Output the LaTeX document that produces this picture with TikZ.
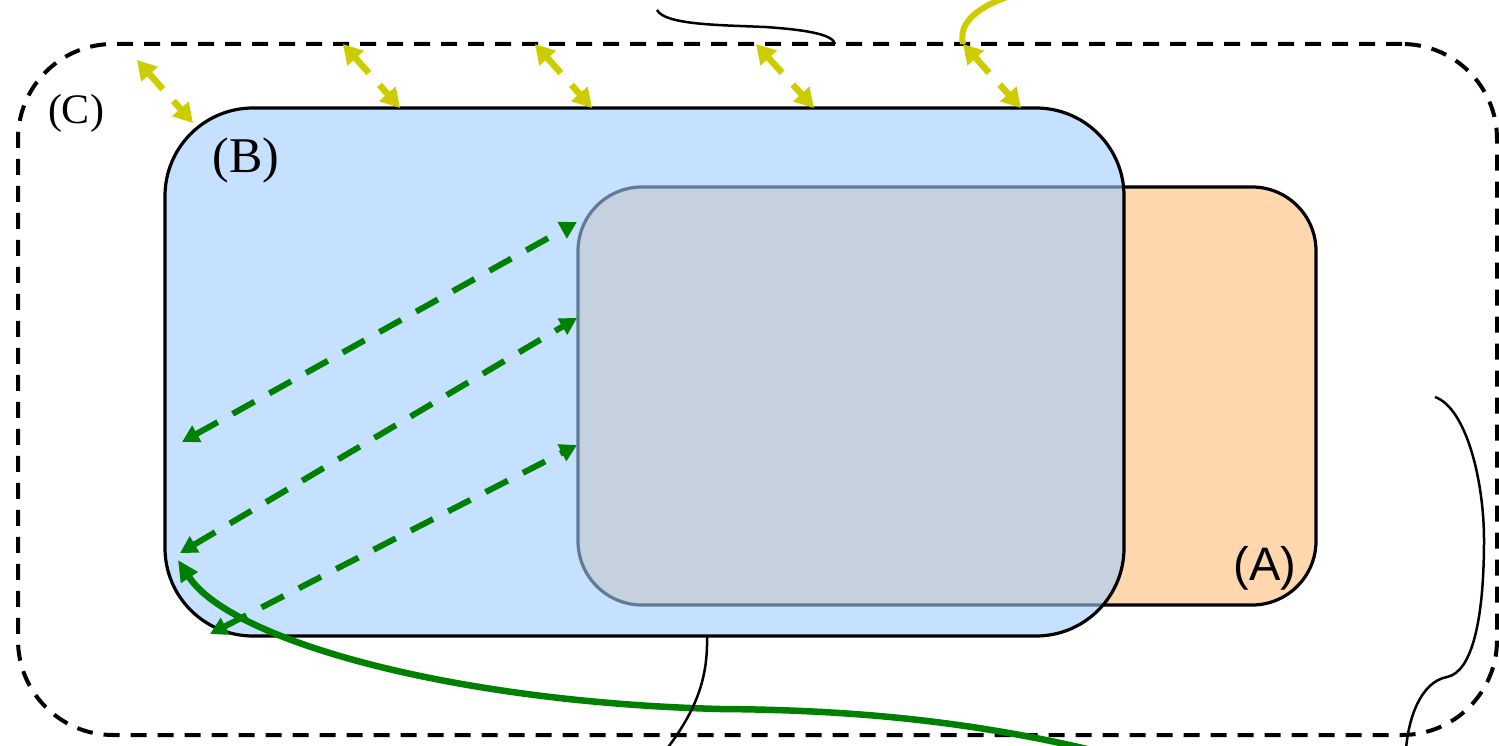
\documentclass[tikz,border=0pt]{standalone}
\usepackage{fontspec}
\setmainfont{Liberation Serif}
\newfontfamily\labelsans{Liberation Sans}
\usetikzlibrary{arrows.meta}
\definecolor{boxblue}{RGB}{160,205,255}
\definecolor{boxorange}{RGB}{255,215,175}
\definecolor{arrowgreen}{RGB}{0,128,0}
\definecolor{arrowyellow}{RGB}{204,204,0}
\begin{document}
\begin{tikzpicture}[x=1pt,y=-1pt,
  region/.style={draw=black,line width=3.2pt,rectangle,inner sep=0pt,outer sep=0pt},
  outerregion/.style={draw=black,line width=4pt,dash pattern=on 16pt off 11pt,rectangle,inner sep=0pt,outer sep=0pt},
  yarrow/.style={draw=arrowyellow,line width=6.5pt,{Triangle[length=19pt,width=21pt]}-{Triangle[length=19pt,width=21pt]},dash pattern=on 21pt off 16pt on 80pt},
  garrow/.style={draw=arrowgreen,line width=6pt,{Triangle[length=17pt,width=18pt]}-{Triangle[length=17pt,width=18pt]},dash pattern=on 25pt off 17pt},
  greencurve/.style={draw=arrowgreen,line width=6.5pt,-{Triangle[length=21pt,width=19pt]}},
  yellowcurve/.style={draw=arrowyellow,line width=6pt},
  thincurve/.style={draw=black,line width=2.5pt},
  lab/.style={inner sep=0pt,outer sep=0pt},
]
\useasboundingbox (0,0) rectangle (1499,746);
% regions
\node[outerregion, minimum width=1479pt, minimum height=691pt, rounded corners=95pt] (C) at (757.5,389.5) {};
\node[region, fill=boxorange, minimum width=738pt, minimum height=418pt, rounded corners=64pt] (A) at (947,396) {};
\node[region, fill=boxblue, fill opacity=0.6, minimum width=959pt, minimum height=528pt, rounded corners=88pt] (B) at (644.5,372) {};
% labels
\node[lab, font=\fontsize{42}{42}\selectfont] (labC) at (76,113) {(C)};
\node[lab, font=\fontsize{50}{50}\selectfont] (labB) at (246,160) {(B)};
\node[lab, font=\labelsans\fontsize{47}{47}\selectfont] (labA) at (1265,568) {(A)};
% yellow arrows between C and B
\coordinate (yc1) at (137,60);  \coordinate (yb1) at (193,123);
\coordinate (yc2) at (343,44);  \coordinate (yb2) at (400,108);
\coordinate (yc3) at (535,44);  \coordinate (yb3) at (592,108);
\coordinate (yc4) at (756,44);  \coordinate (yb4) at (814,108);
\coordinate (yc5) at (963,44);  \coordinate (yb5) at (1021,108);
\draw[yarrow] (yc1) -- (yb1);
\draw[yarrow] (yc2) -- (yb2);
\draw[yarrow] (yc3) -- (yb3);
\draw[yarrow] (yc4) -- (yb4);
\draw[yarrow] (yc5) -- (yb5);
\coordinate (ytop) at (1016,-6);
\draw[yellowcurve] (yc5) .. controls (958,22) and (978,6) .. (ytop);
% green dashed arrows between B and A
\coordinate (gb1) at (182,442); \coordinate (ga1) at (577,222);
\coordinate (gb2) at (180,553); \coordinate (ga2) at (577,318);
\coordinate (gb3) at (210,634); \coordinate (ga3) at (577,445);
\draw[garrow] (gb1) -- (ga1);
\draw[garrow] (gb2) -- (ga2);
\draw[garrow] (gb3) -- (ga3);
% green solid curve
\coordinate (gout) at (1160,768);
\coordinate (gend) at (178,560);
\draw[greencurve] (gout) .. controls (1000,722) and (860,710) .. (720,709) .. controls (450,702) and (230,640) .. (gend);
% thin black curves
\coordinate (ttop1) at (657,10); \coordinate (ttop2) at (835,44);
\draw[thincurve] (ttop1) .. controls (665,25) and (720,25) .. (765,27) .. controls (810,30) and (833,35) .. (ttop2);
\coordinate (bbot1) at (707,637); \coordinate (bbot2) at (666,750);
\draw[thincurve] (bbot1) .. controls (708,680) and (695,712) .. (bbot2);
\coordinate (rt1) at (1435,397); \coordinate (rt2) at (1406,750);
\draw[thincurve] (rt1) .. controls (1466,408) and (1484,480) .. (1484,540) .. controls (1484,620) and (1472,672) .. (1447,677) .. controls (1420,682) and (1408,720) .. (rt2);
\end{tikzpicture}
\end{document}
